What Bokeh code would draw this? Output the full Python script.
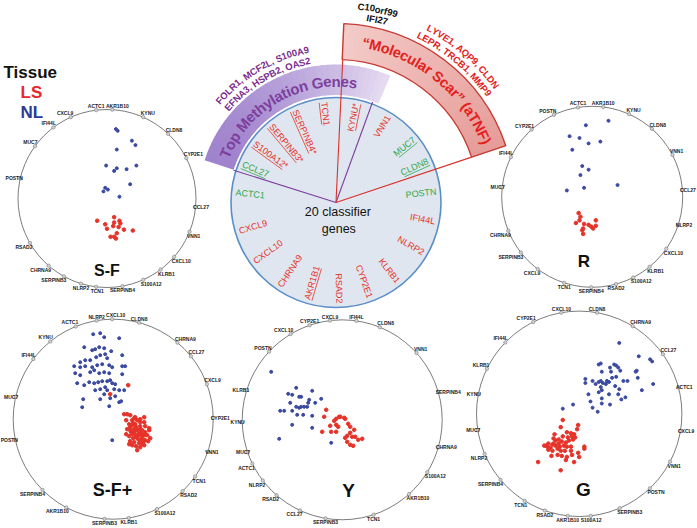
import math
from bokeh.plotting import figure
from bokeh.models import Range1d
from bokeh.embed import file_html
from bokeh.resources import INLINE
from bokeh.core.properties import value

# ----------------------------- data -----------------------------
LEGEND_TITLE = "Tissue"
LEGEND_LABELS = ["LS", "NL"]

CENTER_TITLE = ["20 classifier", "genes"]
CLASSIFIER_GENES = ["TCN1", "KYNU*", "VNN1", "MUC7", "CLDN8", "POSTN", "IFI44L",
                    "NLRP2", "KLRB1", "CYP2E1", "RSAD2", "AKR1B1", "CHRNA9", "CXCL10",
                    "CXCL9", "ACTC1", "CCL27", "S100A12*", "SERPINB3*", "SERPINB4*"]
CLASSIFIER_ANGLE = [96.8, 78.6, 58.7, 39.2, 24.4, 6.2, -10.9, -30.0, -52.0, -70.4,
                    -88.0, -106.6, -123.8, -144.0, -163.6, 174.3, 157.6, 144.0, 130.0, 114.0]
CLASSIFIER_DIRECTION = ["up", "up", "up", "down", "down", "down", "up", "up", "up", "up",
                        "up", "up", "up", "up", "up", "down", "down", "up", "up", "up"]
CLASSIFIER_UNDERLINED = [1, 1, 0, 1, 1, 0, 0, 0, 0, 0, 0, 1, 0, 0, 0, 0, 1, 1, 1, 1]

METHYLATION_TITLE = "Top Methylation Genes"
METHYLATION_GENES = ["FOLR1, MCF2L, S100A9", "EFNA3, HSPB2, OAS2"]
SCAR_TITLE = "\u201cMolecular Scar\u201d (aTNF)"
SCAR_GENES = ["LYVE1, AQP9, CLDN", "LEPR, TRCB1, MMP9"]
SHARED_GENES = ["C10orf99", "IFI27"]

# RadViz panels: anchor genes (clockwise from top), anchor angles (deg),
# projected sample coordinates in percent of the circle radius
SF_GENES = ["ACTC1", "AKR1B10", "KYNU", "CLDN8", "CYP2E1", "CCL27", "VNN1", "CXCL10", "KLRB1",
            "S100A12", "SERPINB4", "TCN1", "NLRP2", "SERPINB3", "CHRNA9", "RSAD2", "POSTN",
            "MUC7", "IFI44L", "CXCL9"]
SF_ANGLE = [97, 86.6, 66, 46.6, 27, -5.6, -22, -41, -53, -66, -80, -97, -107, -119, -131,
            -150, 167, 144, 127, 114]
SF_NL_U = [10, 12, 28, 32, 11, -1, 11, 8, 22, 33, 26, -2, 1, -4, 14]
SF_NL_V = [78, 76, 65, 60, 55, 37, 34, 31, 33, 37, 16, 12, 10, 8, 2]
SF_LS_U = [-11, 8, -2, 8, 14, 15, 0, 13, 19, 29, 4, 8, 10, 11, 7]
SF_LS_V = [-25, -21, -29, -27, -25, -28, -34, -32, -35, -36, -43, -43, -45, -39, -31]

R_GENES = ["ACTC1", "AKR1B10", "KYNU", "CLDN8", "VNN1", "CCL27", "NLRP2", "CXCL10", "KLRB1",
           "S100A12", "RSAD2", "SERPINB4", "TCN1", "CXCL9", "SERPINB3", "CHRNA9", "MUC7",
           "IFI44L", "CYP2E1", "POSTN"]
R_ANGLE = [99, 83, 66, 48.7, 27.6, 4.4, -18, -35, -50.6, -63, -74.7, -90.6, -108, -127, -142,
           -158, 174, 154, 132, 115]
R_NL_U = [-7, 18, -25, -14, -4, 9, -22, -11, -4, -13, -28, -9, 28]
R_NL_V = [79, 84, 67, 65, 59, 61, 52, 34, 30, 24, 7, 10, 13]
R_LS_U = [-15, -13, -18, -14, -9, -4, 4, -1, 4, 1, -10, -10, -11]
R_LS_V = [-18, -22, -29, -26, -30, -31, -26, -33, -32, -35, -35, -41, -37]

SFP_GENES = ["NLRP2", "CXCL10", "CLDN8", "CHRNA9", "CCL27", "CXCL9", "CYP2E1", "VNN1", "TCN1",
             "RSAD2", "S100A12", "KLRB1", "SERPINB3", "AKR1B10", "SERPINB4", "POSTN", "MUC7",
             "IFI44L", "KYNU", "ACTC1"]
SFP_ANGLE = [99.5, 90.6, 75, 50, 39, 20.5, 0.8, -19, -35, -46, -64, -81, -95, -118, -135,
             -168, 167, 143, 129, 112]
SFP_NL_U = [-20, -13, -9, 6, -29, -21, -18, -14, -9, -2,
            -33, -28, -23, -17, -13, -8, -6, 9, -39, -33,
            -28, -21, -16, -11, -4, -1, 9, 12, -38, -33,
            -23, -19, -14, -9, -4, 9, -36, -29, -24, -19,
            -15, -11, -6, -3, -1, 2, -18, -13, -8, -6,
            1, 6, 11, -9, -3, 2, 6, 8, -13, -30,
            -31, -4, -1]
SFP_NL_V = [85, 86, 82, 81, 72, 69, 70, 72, 71, 68,
            57, 59, 59, 62, 64, 65, 61, 64, 53, 52,
            53, 52, 54, 55, 54, 52, 53, 53, 46, 44,
            47, 49, 46, 47, 46, 45, 36, 34, 37, 36,
            37, 38, 38, 39, 36, 35, 29, 30, 32, 29,
            30, 29, 29, 25, 21, 23, 17, 18, 20, 20,
            12, 13, -21]
SFP_LS_U = [15, -3, 11, 14, 17, 22, 27, 19, 24, 31,
            16, 19, 22, 27, 32, 36, 14, 17, 21, 24,
            29, 32, 19, 22, 26, 29, 34, 16, 20, 25,
            29, 32, 17, 21, 26, 30, 35, 19, 23, 27,
            16, 24, 31, 37, 13, 27, 18, 31, 21, 13,
            36, 27, 23, 20, 28, 23, 26, 17, 31, 27,
            21, 29]
SFP_LS_V = [34, 25, 5, 5, 4, 2, 0, -1, -1, -3,
            -5, -6, -5, -7, -7, -9, -10, -11, -10, -11,
            -11, -13, -15, -15, -14, -16, -16, -17, -19, -20,
            -19, -21, -22, -23, -24, -23, -22, -26, -27, -28,
            -25, -31, -26, -19, -15, -10, -13, 2, 1, -1,
            -11, -21, -8, -4, -14, -18, -16, -8, -16, -3,
            -12, -25]

Y_GENES = ["CXCL9", "IFI44L", "CLDN8", "VNN1", "SERPINB4", "CHRNA9", "S100A12", "AKR1B10",
           "TCN1", "SERPINB3", "CCL27", "RSAD2", "NLRP2", "ACTC1", "MUC7", "KYNU", "KLRB1",
           "POSTN", "CXCL10", "CYP2E1"]
Y_ANGLE = [97, 81.8, 67.9, 42, 16.3, -16, -31.6, -48, -71.7, -99.6, -115, -131, -142.6, -154,
           -161, -178.6, 162.7, 137, 121, 109]
Y_NL_U = [-71, -46, -54, -50, -43, -41, -30, -21, -52, -46, -41, -34, -33, -27,
          -62, -58, -50, -43, -38, -35, -45, -39, -30, -50, -30, -63, -11]
Y_NL_V = [48, 32, 26, 25, 23, 23, 29, 21, 17, 13, 13, 17, 20, 17,
          9, 9, 9, 12, 13, 13, 5, 5, 4, -5, -8, -19, -23]
Y_LS_U = [-16, -18, -6, -3, -2, 2, 3, -8, -12, -6, -4, 6, 8, 12,
          -20, -11, -6, 8, 5, 10, 13, 20, 3, 5, 8, 11, 16]
Y_LS_V = [10, 3, 1, 3, 3, 2, 1, -1, -6, -5, -7, -4, -7, -10,
          -12, -12, -12, -13, -16, -17, -17, -19, -18, -22, -25, -26, -20]

G_GENES = ["CXCL10", "CLDN8", "CHRNA9", "CCL27", "ACTC1", "CXCL9", "VNN1", "POSTN", "SERPINB3",
           "S100A12", "AKR1B10", "RSAD2", "TCN1", "SERPINB4", "NLRP2", "MUC7", "KYNU", "KLRB1",
           "IFI44L", "CYP2E1"]
G_ANGLE = [100, 80, 58.6, 35.4, 14.9, -9.7, -27.8, -46.5, -66.8, -83.5, -96.4, -109.5, -122,
           -140, -157, -170.8, 169, 154, 136, 116.6]
G_NL_U = [39, 58, 69, 71, 19, 21, 34, 36, 30, 38, 22, 31, 40, 56, 55,
          6, 13, 19, 21, 23, 27, 32, 36, 43, 47, 57, 6, 16, 21, 26,
          29, 35, 39, 72, 9, 19, 22, 29, 38, 45, 41, 61, 22, 11, 22,
          30, 13, 18, -6, -16]
G_NL_V = [69, 56, 53, 51, 48, 49, 48, 47, 45, 45, 41, 41, 42, 42, 41,
          34, 32, 31, 32, 30, 32, 35, 36, 32, 32, 35, 30, 29, 26, 29,
          31, 27, 24, 29, 19, 21, 23, 19, 19, 16, 14, 23, 15, 12, 10,
          9, 6, 2, 9, 5]
G_LS_U = [-16, -18, -1, -2, -12, -8, -5, -7, -11, -16, -24, -25, -23, -20, -17,
          -13, -10, -6, -4, -32, -34, -30, -26, -23, -20, -15, -12, -8, 5, 5,
          -30, -26, -21, -18, -14, -8, -1, 0, -27, -21, -17, -12, -7, -13, -5,
          -40, -18, -31, -25, -19, -28]
G_LS_V = [-6, -13, -11, -15, -18, -19, -20, -22, -23, -22, -20, -24, -26, -25, -27,
          -28, -26, -25, -23, -31, -31, -29, -30, -31, -29, -31, -32, -32, -32, -34,
          -35, -36, -34, -36, -36, -36, -38, -42, -41, -40, -41, -42, -40, -45, -47,
          -47, -55, -32, -29, -32, -33]

# ----------------------------- layout / style -----------------------------
W, H = 697, 528
XR = (0, 697)
YR = (0, 528)
PX = W / (XR[1] - XR[0])          # screen px per data unit
FONT = value("Liberation Sans")
RED = "#e6332a"
BLUE = "#3b4aa0"
GREEN = "#2ea84f"
PURPLE = "#7d3f9d"
ANCHOR_FONT = 5.0

AW = {' ': 278, ',': 278, '(': 333, ')': 333, '*': 389, '-': 333, '+': 584,
      '\u201c': 500, '\u201d': 500,
      'A': 722, 'B': 722, 'C': 722, 'D': 722, 'E': 667, 'F': 611, 'G': 778, 'H': 722,
      'I': 278, 'K': 722, 'L': 611, 'M': 833, 'N': 722, 'O': 778, 'P': 667, 'Q': 778,
      'R': 722, 'S': 667, 'T': 611, 'U': 722, 'V': 667, 'Y': 667,
      'a': 556, 'c': 556, 'e': 556, 'f': 333, 'g': 611, 'h': 611, 'i': 278, 'l': 278,
      'n': 611, 'o': 611, 'p': 611, 'r': 389, 's': 556, 't': 333, 'u': 611, 'y': 556}


def fy(y_img):
    return 528.0 - y_img


def text_w(s, size):
    return sum(AW.get(ch, 556) for ch in s) * size / 1000.0 / PX


def lerp(c0, c1, t):
    a = [int(c0[i:i + 2], 16) for i in (1, 3, 5)]
    b = [int(c1[i:i + 2], 16) for i in (1, 3, 5)]
    return "#%02x%02x%02x" % tuple(int(round(a[k] + (b[k] - a[k]) * t)) for k in range(3))


p = figure(width=W, height=H, x_range=Range1d(*XR), y_range=Range1d(*YR),
           output_backend="svg", toolbar_location=None, min_border=0,
           x_axis_location=None, y_axis_location=None)
p.grid.visible = False
p.outline_line_color = None
p.background_fill_color = "white"
p.border_fill_color = "white"

# ----------------------------- central diagram -----------------------------
CX, CY, CR = 335.5, fy(202.0), 105.0


def arc_text(s, r, center_deg, size, color):
    ws = [AW.get(ch, 556) * size / 1000.0 / PX for ch in s]
    span = sum(ws) / r
    a0 = math.radians(center_deg) + span / 2
    xs, ys, angs = [], [], []
    cum = 0.0
    for w in ws:
        a = a0 - (cum + w / 2) / r
        cum += w
        xs.append(CX + r * math.cos(a))
        ys.append(CY + r * math.sin(a))
        angs.append(a - math.pi / 2)
    p.text(x=xs, y=ys, text=list(s), angle=angs, text_align="center", text_baseline="middle",
           text_font=FONT, text_font_style="bold", text_font_size="%.1fpx" % size,
           text_color=color)


def wedge(lo, hi, ri, ro, **kw):
    p.annular_wedge(x=CX, y=CY, inner_radius=ri, outer_radius=ro,
                    start_angle=math.radians(lo), end_angle=math.radians(hi), **kw)


# purple band (gradient)
PB_A0, PB_A1, PB_RI, PB_RO = 67.0, 162.0, 107.5, 138.0
n = 36
for i in range(n):
    lo = PB_A0 + (PB_A1 - PB_A0) * i / n
    hi = PB_A0 + (PB_A1 - PB_A0) * (i + 1) / n
    t = 1 - (i + 0.5) / n
    wedge(lo - 0.2, hi + 0.2, PB_RI, PB_RO,
          fill_color=lerp("#a083cd", "#e6ddf2", t ** 1.6), line_color=None)

# red band (gradient + outline)
RB_A0, RB_A1, RB_RI, RB_RO = 18.5, 87.5, 143.0, 179.0
for i in range(n):
    lo = RB_A0 + (RB_A1 - RB_A0) * i / n
    hi = RB_A0 + (RB_A1 - RB_A0) * (i + 1) / n
    t = (i + 0.5) / n
    wedge(lo - 0.2, hi + 0.2, RB_RI, RB_RO,
          fill_color=lerp("#e69c98", "#f3cbc8", t), line_color=None)
wedge(RB_A0, RB_A1, RB_RI, RB_RO, fill_color=None, line_color="#c63b33", line_width=1.4)

# classifier circle
p.circle(x=[CX], y=[CY], radius=CR, fill_color="#dfe6ef", line_color="#5b8ec6", line_width=1.6)

# dividing lines
for ang, rr, col in [(162.5, PB_RI, PURPLE), (70.0, 107.0, PURPLE),
                     (87.3, RB_RI + 1, "#d8322b"), (18.5, RB_RI, "#d8322b")]:
    a = math.radians(ang)
    p.segment(x0=[CX], y0=[CY], x1=[CX + rr * math.cos(a)], y1=[CY + rr * math.sin(a)],
              line_color=col, line_width=1.1)

# gene labels inside the circle
R_OUT = 101.0
LSIZE = 9.0
for g, ang, d, u in zip(CLASSIFIER_GENES, CLASSIFIER_ANGLE, CLASSIFIER_DIRECTION,
                        CLASSIFIER_UNDERLINED):
    a = math.radians(ang)
    col = RED if d == "up" else GREEN
    x0, y0 = CX + R_OUT * math.cos(a), CY + R_OUT * math.sin(a)
    right = math.cos(a) >= 0
    phi = a if right else a + math.pi
    p.text(x=[x0], y=[y0], text=[g], angle=[phi], text_align="right" if right else "left",
           text_baseline="middle", text_font=FONT, text_font_size="%.1fpx" % LSIZE,
           text_color=col)
    if u:
        w = text_w(g, LSIZE) * 0.93
        off = LSIZE * 0.55 / PX
        bx, by = math.sin(phi) * off, -math.cos(phi) * off
        xa, ya = CX + R_OUT * math.cos(a), CY + R_OUT * math.sin(a)
        xb, yb = CX + (R_OUT - w) * math.cos(a), CY + (R_OUT - w) * math.sin(a)
        p.segment(x0=[xa + bx], y0=[ya + by], x1=[xb + bx], y1=[yb + by],
                  line_color=col, line_width=0.8)

p.text(x=[337.3, 338.3], y=[fy(211.7), fy(228.3)], text=CENTER_TITLE, text_align="center",
       text_baseline="middle", text_font=FONT, text_font_size="12.5px", text_color="#111111")

# curved annotations
arc_text(METHYLATION_TITLE, 121.0, 119.0, 15.0, PURPLE)
arc_text(METHYLATION_GENES[0], 155.0, 120.0, 9.5, "#7a2c8e")
arc_text(METHYLATION_GENES[1], 144.0, 120.0, 9.5, "#7a2c8e")
arc_text(SCAR_TITLE, 162.0, 51.0, 14.5, "#e3211c")
arc_text(SCAR_GENES[0], 198.0, 49.0, 9.5, "#e3211c")
arc_text(SCAR_GENES[1], 187.0, 49.5, 9.5, "#e3211c")
arc_text(SHARED_GENES[0], 197.5, 77.8, 9.5, "#111111")
arc_text(SHARED_GENES[1], 187.5, 77.3, 9.5, "#111111")

# ----------------------------- RadViz panels -----------------------------
PANELS = [
    ("S-F", (106.5, 198.0), 89.0, SF_GENES, SF_ANGLE, SF_NL_U, SF_NL_V, SF_LS_U, SF_LS_V,
     (106.5, 270.0), 16),
    ("R", (591.7, 196.3), 90.5, R_GENES, R_ANGLE, R_NL_U, R_NL_V, R_LS_U, R_LS_V,
     (583.3, 260.7), 17),
    ("S-F+", (112.7, 418.7), 100.0, SFP_GENES, SFP_ANGLE, SFP_NL_U, SFP_NL_V, SFP_LS_U,
     SFP_LS_V, (112.0, 489.0), 18),
    ("Y", (341.7, 419.3), 100.0, Y_GENES, Y_ANGLE, Y_NL_U, Y_NL_V, Y_LS_U, Y_LS_V,
     (348.0, 490.0), 19),
    ("G", (578.7, 413.3), 102.7, G_GENES, G_ANGLE, G_NL_U, G_NL_V, G_LS_U, G_LS_V,
     (583.0, 489.0), 19),
]

for title, (cxi, cyi), r, genes, angs, nu, nv, lu, lv, (tx, ty), tsize in PANELS:
    cx, cy = cxi, fy(cyi)
    p.circle(x=[cx], y=[cy], radius=r, fill_color=None, line_color="#5a5a5a", line_width=0.8)
    ax = [cx + r * math.cos(math.radians(a)) for a in angs]
    ay = [cy + r * math.sin(math.radians(a)) for a in angs]
    labels = []
    for g, a, x, y in zip(genes, angs, ax, ay):
        c, s = math.cos(math.radians(a)), math.sin(math.radians(a))
        if c > 0.35:
            al, dx = "left", -2.5
        elif c < -0.35:
            al, dx = "right", 2.5
        else:
            al, dx = "center", 0.0
        if s > 0.35:
            bl, dy = "bottom", 1.0
        elif s < -0.35:
            bl, dy = "top", -1.0
        else:
            bl, dy = "middle", 0.0
        labels.append([g, x + dx, y + dy, al, bl])
    # keep centred labels at the top / bottom from running into each other
    for side in ("bottom", "top"):
        row = sorted([lb for lb in labels if lb[3] == "center" and lb[4] == side],
                     key=lambda lb: lb[1])
        for prev, cur in zip(row, row[1:]):
            gap = (cur[1] - text_w(cur[0], ANCHOR_FONT) / 2) - \
                  (prev[1] + text_w(prev[0], ANCHOR_FONT) / 2)
            if gap < 1.5:
                cur[1] += 1.5 - gap
    groups = {}
    for g, x, y, al, bl in labels:
        gx, gy, gt = groups.setdefault((al, bl), ([], [], []))
        gx.append(x)
        gy.append(y)
        gt.append(g)
    p.scatter(ax, ay, marker="circle", size=3.4, fill_color="#d2d2d2", line_color="#7a7a7a",
              line_width=0.6)
    for (al, bl), (gx, gy, gt) in groups.items():
        p.text(x=gx, y=gy, text=gt, text_align=al, text_baseline=bl, text_font=FONT,
               text_font_style="bold", text_font_size="%.1fpx" % ANCHOR_FONT,
               text_color="#222222")
    p.scatter([cx + u / 100.0 * r for u in nu], [cy + v / 100.0 * r for v in nv],
              marker="circle", size=3.0, color=BLUE)
    p.scatter([cx + u / 100.0 * r for u in lu], [cy + v / 100.0 * r for v in lv],
              marker="circle", size=3.6, color=RED)
    p.text(x=[tx], y=[fy(ty)], text=[title], text_align="center", text_baseline="middle",
           text_font=FONT, text_font_style="bold", text_font_size="%dpx" % tsize,
           text_color="#111111")

# ----------------------------- legend -----------------------------
p.text(x=[3.0], y=[fy(71.5)], text=[LEGEND_TITLE], text_align="left", text_baseline="middle",
       text_font=FONT, text_font_style="bold", text_font_size="17px", text_color="#111111")
p.text(x=[20.0], y=[fy(91.5)], text=[LEGEND_LABELS[0]], text_align="left",
       text_baseline="middle", text_font=FONT, text_font_style="bold", text_font_size="17px",
       text_color="#e8252a")
p.text(x=[20.0], y=[fy(111.5)], text=[LEGEND_LABELS[1]], text_align="left",
       text_baseline="middle", text_font=FONT, text_font_style="bold", text_font_size="17px",
       text_color="#2b3a97")

open("out.html", "w").write(file_html(p, INLINE))
